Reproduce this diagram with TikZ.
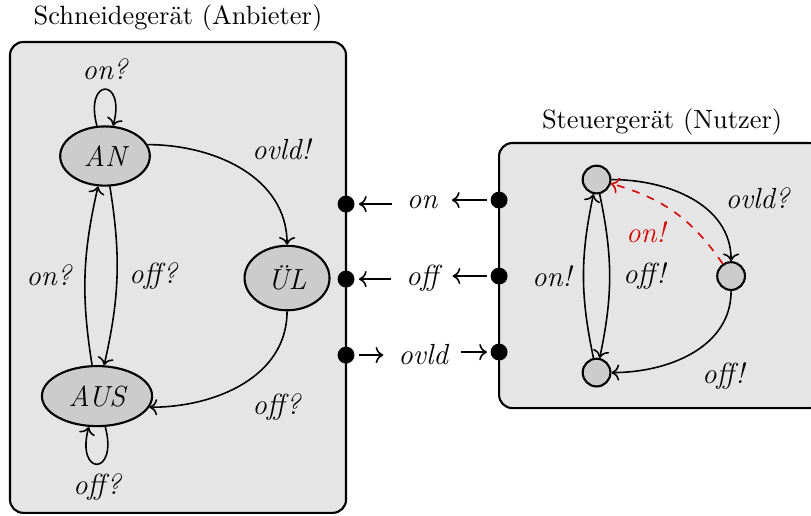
\documentclass[tikz,border=0pt]{standalone}
\usepackage{tikz}
\usetikzlibrary{arrows.meta,positioning,calc,shapes.geometric}
\tikzset{st/.style={ellipse,draw,thick,fill=black!20,inner sep=4pt,minimum height=21pt,font=\fontsize{11}{13}\selectfont\itshape},
 sm/.style={circle,draw,thick,fill=black!20,inner sep=0pt,minimum size=10.5pt},
 box/.style={draw,thick,fill=black!10,rounded corners=5pt},
 port/.style={circle,fill=black,inner sep=0pt,minimum size=6.4pt},
 flow/.style={-{To},semithick},lbl/.style={font=\fontsize{11}{13}\selectfont\itshape}}

\begin{document}
\begin{tikzpicture}[x=1cm,y=1cm]
\useasboundingbox (0,0) rectangle (10.79,6.853);
\draw[box](0.133,0.03) rectangle (4.604,6.294);
\node(tl) at (2.368,6.613){Schneidegerät (Anbieter)};
\draw[box](6.640,1.424) rectangle (10.95,4.950);
\node(tr) at (8.809,5.229){Steuergerät (Nutzer)};
% Anbieter
\node[st](an) at (1.397,4.777){AN};
\node[st](aus) at (1.291,1.583){AUS};
\node[st](ul) at (3.819,3.154){ÜL};
\draw[flow](an)to[loop above]node[lbl,above]{on?}(an);
\draw[flow](aus)to[loop below]node[lbl,below]{off?}(aus);
\draw[flow](aus)to[bend left=11]node[lbl,left=1.5pt]{on?}(an);
\draw[flow](an)to[bend left=11]node[lbl,right=1pt]{off?}(aus);
\draw[flow](an.15)to[out=0,in=90]node[lbl,above right]{ovld!}(ul);
\draw[flow](ul)to[out=270,in=0]node[lbl,below right]{off?}(aus.-12);
% ports
\node[port](pl1) at (4.604,4.138){};
\node[port](pl2) at (4.604,3.140){};
\node[port](pl3) at (4.604,2.129){};
\node[port](pr1) at (6.640,4.191){};
\node[port](pr2) at (6.640,3.180){};
\node[port](pr3) at (6.640,2.169){};
\node[lbl](on) at (5.615,4.165){on};
\node[lbl](off) at (5.615,3.154){off};
\node[lbl](ovld) at (5.630,2.142){ovld};
\draw[flow,shorten <=2pt,shorten >=1.5pt](on.west|-pl1)--(pl1);
\draw[flow,shorten <=1.2pt,shorten >=2pt](pr1)--(on.east|-pr1);
\draw[flow,shorten <=2pt,shorten >=1.5pt](off.west|-pl2)--(pl2);
\draw[flow,shorten <=1.2pt,shorten >=2pt](pr2)--(off.east|-pr2);
\draw[flow,shorten <=1.5pt,shorten >=2.2pt](pl3)--(ovld.west|-pl3);
\draw[flow,shorten <=1.6pt,shorten >=1.2pt](ovld.east|-pr3)--(pr3);
% Nutzer
\node[sm](t) at (7.937,4.464){};
\node[sm](r) at (9.727,3.180){};
\node[sm](b) at (7.937,1.896){};
\draw[flow](b)to[bend left=12]node[lbl,left=1pt]{on!}(t);
\draw[flow](t)to[bend left=12]node[lbl,right=1.5pt]{off!}(b);
\draw[flow](t)to[out=0,in=90]node[lbl,pos=.7,above right]{ovld?}(r);
\draw[flow](r)to[out=270,in=0]node[lbl,below right]{off!}(b);
\draw[flow,dashed,red!85!black](r)to[bend right=20]node[lbl,below left]{on!}(t);
\end{tikzpicture}
\end{document}
